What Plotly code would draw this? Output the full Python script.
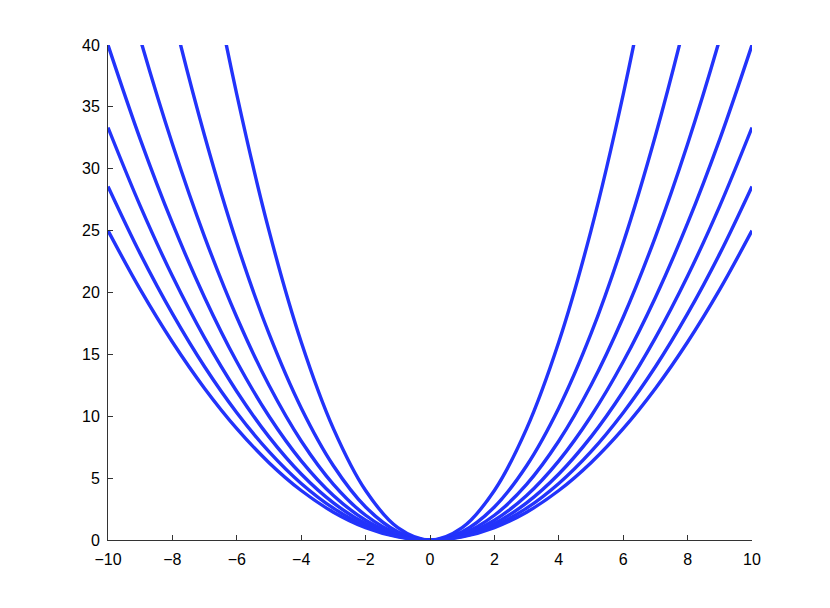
import plotly.graph_objects as go

x_vals = [-10, -9, -8, -7, -6, -5, -4, -3, -2, -1, 0, 1, 2, 3, 4, 5, 6, 7, 8, 9, 10]

# y values read at each x (curves are symmetric), one list per curve
half_1 = [0, 1, 4, 9, 16, 25, 36, 49, 64, 81, 100]
half_2 = [0, 0.67, 2.67, 6, 10.67, 16.67, 24, 32.67, 42.67, 54, 66.67]
half_3 = [0, 0.5, 2, 4.5, 8, 12.5, 18, 24.5, 32, 40.5, 50]
half_4 = [0, 0.4, 1.6, 3.6, 6.4, 10, 14.4, 19.6, 25.6, 32.4, 40]
half_5 = [0, 0.33, 1.33, 3, 5.33, 8.33, 12, 16.33, 21.33, 27, 33.33]
half_6 = [0, 0.29, 1.14, 2.57, 4.57, 7.14, 10.29, 14, 18.29, 23.14, 28.57]
half_7 = [0, 0.25, 1, 2.25, 4, 6.25, 9, 12.25, 16, 20.25, 25]

curves = [half_1, half_2, half_3, half_4, half_5, half_6, half_7]

x_ticks = [-10, -8, -6, -4, -2, 0, 2, 4, 6, 8, 10]
y_ticks = [0, 5, 10, 15, 20, 25, 30, 35, 40]

fig = go.Figure()
for h in curves:
    y = list(reversed(h[1:])) + h
    fig.add_trace(go.Scatter(x=x_vals, y=y, mode="lines",
                             line=dict(color="#2233fb", width=3.4, shape="spline", smoothing=1.0),
                             showlegend=False, hoverinfo="skip"))

axis_common = dict(showgrid=False, zeroline=False, showline=True, linecolor="#333333",
                   linewidth=1, ticks="inside", ticklen=5, tickcolor="#333333",
                   tickfont=dict(family="Liberation Sans, Arial, sans-serif", size=16, color="#000000"),
                   mirror=False)

fig.update_layout(
    width=830, height=608,
    paper_bgcolor="white", plot_bgcolor="white",
    margin=dict(l=100, r=86, t=37, b=76),
    xaxis=dict(range=[-10, 10], tickvals=x_ticks, ticklabelstandoff=5, **axis_common),
    yaxis=dict(range=[0, 40], tickvals=y_ticks, ticklabelstandoff=4, **axis_common),
)

fig.write_html("out.html")
